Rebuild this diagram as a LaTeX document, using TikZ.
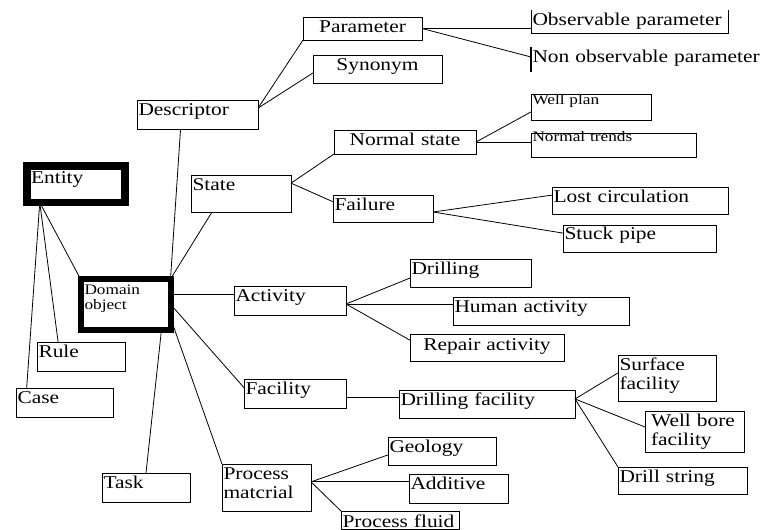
\documentclass[tikz,border=0pt]{standalone}
\usepackage{fontspec}
\setmainfont{Liberation Serif}[FakeStretch=1.19]
\usetikzlibrary{calc}

\newcommand{\bigtxt}{\fontsize{18}{19}\selectfont}
\newcommand{\smalltxt}{\fontsize{14.5}{15}\selectfont}

\begin{document}
\begin{tikzpicture}[x=1pt, y=-1pt]
	\tikzset{
		box/.style 2 args={draw, line width=0.9pt, outer sep=0pt, anchor=north west, minimum width=#1, minimum height=#2, text width=#1-3, text height=15, text depth=#2-16, inner xsep=1.5pt, inner ysep=0.5pt, align=left, font=\bigtxt},
		cbox/.style 2 args={box={#1}{#2}, align=center},
		heavy/.style={line width=#1, inner xsep=4pt},
		wire/.style={line width=0.8pt},
	}

	\useasboundingbox (0,0) rectangle (761,530);

	\node[box={98}{35}, heavy=7.5pt, text width=90, text height=16.5] (entity) at (27,166) {Entity};
	\node[box={90}{50.5}, heavy=6pt, text width=82, text height=14, font=\smalltxt] (dom) at (80.5,279) {Domain\\object};

	\node[box={121}{29}] (desc) at (137,100) {Descriptor};
	\node[cbox={119}{23}] (par) at (303,17) {Parameter};
	\node[cbox={129}{28}] (syn) at (313,55) {Synonym};
	\node[box={197}{23}, draw=none] (obs) at (531,10) {Observable parameter};
	\node[box={229}{25}, draw=none, text width=240] (nonobs) at (531,47) {Non observable parameter};

	\node[box={100}{37}] (state) at (191,175) {State};
	\node[cbox={142}{24}] (ns) at (334,130) {Normal state};
	\node[box={120}{26}, font=\smalltxt, text height=9.5, text depth=15.5] (wp) at (531,94) {Well plan};
	\node[box={165}{24}, font=\smalltxt, text height=7.5, text depth=15.5] (nt) at (531,133) {Normal trends};
	\node[box={100}{27}] (fail) at (333,195) {Failure};
	\node[box={176}{27}] (lost) at (552,187) {Lost circulation};
	\node[box={153}{27}, text height=13.5] (stuck) at (563,225) {Stuck pipe};

	\node[box={112}{29}] (act) at (234,286) {Activity};
	\node[box={121}{28}] (drill) at (410,259) {Drilling};
	\node[box={176}{28}] (hum) at (453,297) {Human activity};
	\node[cbox={154}{26}, text height=16] (rep) at (410,334) {Repair activity};

	\node[box={102}{29}] (fac) at (244,379) {Facility};
	\node[box={176}{28}] (dfac) at (399,390) {Drilling facility};
	\node[box={98}{46}] (surf) at (618,355) {Surface\\facility};
	\node[box={99}{41}, inner xsep=6pt, text width=87] (wb) at (645,411) {Well bore\\facility};
	\node[box={129}{27}] (ds) at (618,467) {Drill string};

	\node[box={89}{47}, text height=14] (proc) at (222,464) {Process\\matcrial};
	\node[box={108}{28}] (geo) at (388,437) {Geology};
	\node[box={99}{29}, text height=14] (add) at (409,474) {Additive};
	\node[box={118}{18}, text height=15.5, text depth=1.5, inner ysep=0pt] (pf) at (341,511) {Process fluid};

	\node[box={88}{29}, text height=14] (task) at (102,473) {Task};
	\node[box={88}{29}] (rule) at (37,342) {Rule};
	\node[box={97}{29}] (case) at (16,388) {Case};

	% open frames
	\draw[line width=0.9pt] (obs.north west) -- (obs.south west) -- (obs.south east) -- (obs.north east);
	\draw[line width=1.2pt] (nonobs.north west) -- (nonobs.south west);

	% entity
	\coordinate (entfoot) at ($(entity.south west)!0.13!(entity.south east)$);
	\draw[wire] (entfoot) -- (dom.north west);
	\foreach \n/\f in {rule/0.24, case/0.11}
		\draw[wire] (entfoot) -- ($(\n.north west)!\f!(\n.north east)$);

	% domain object
	\draw[wire] ($(desc.south west)!0.36!(desc.south east)$) -- (dom.north east);
	\draw[wire] (dom.north east) -- ($(state.south west)!0.21!(state.south east)$);
	\coordinate (domact) at ($(dom.north east)!0.3!(dom.south east)$);
	\draw[wire] (domact) -- (domact -| act.west);
	\draw[wire] (dom.east) -- ($(fac.north west)!0.3!(fac.south west)$);
	\draw[wire] ($(dom.south west)!0.9!(dom.south east)$) -- (task.north);
	\draw[wire] ($(dom.north east)!0.77!(dom.south east)$) -- (proc.north west);

	% descriptor
	\coordinate (descout) at ($(desc.north east)!0.28!(desc.south east)$);
	\draw[wire] (descout) -- (par.south west);
	\draw[wire] (descout) -- ($(syn.north west)!0.64!(syn.south west)$);
	\draw[wire] (par.east) -- (par.east -| obs.west);
	\draw[wire] (par.east) -- ($(nonobs.north west)!0.4!(nonobs.south west)$);

	% state
	\coordinate (stateout) at ($(state.north east)!0.22!(state.south east)$);
	\draw[wire] (stateout) -- (ns.south west);
	\draw[wire] (stateout) -- ($(fail.north west)!0.25!(fail.south west)$);
	\draw[wire] (ns.east) -- ($(wp.north west)!0.69!(wp.south west)$);
	\draw[wire] (ns.east) -- (ns.east -| nt.west);
	\coordinate (failout) at ($(fail.north east)!0.63!(fail.south east)$);
	\foreach \n in {lost, stuck}
		\draw[wire] (failout) -- ($(\n.north west)!0.3!(\n.south west)$);

	% activity
	\coordinate (actout) at ($(act.north east)!0.62!(act.south east)$);
	\foreach \n/\f in {drill/0.68, rep/0.23}
		\draw[wire] (actout) -- ($(\n.north west)!\f!(\n.south west)$);
	\draw[wire] (actout) -- (actout -| hum.west);

	% facility
	\coordinate (facout) at ($(fac.north east)!0.65!(fac.south east)$);
	\draw[wire] (facout) -- (facout -| dfac.west);
	\coordinate (dfacout) at ($(dfac.north east)!0.32!(dfac.south east)$);
	\foreach \n in {surf, wb}
		\draw[wire] (dfacout) -- ($(\n.north west)!0.39!(\n.south west)$);
	\draw[wire] (dfacout) -- (ds.north west);

	% process material
	\coordinate (procout) at ($(proc.north east)!0.38!(proc.south east)$);
	\draw[wire] (procout) -- ($(geo.north west)!0.64!(geo.south west)$);
	\draw[wire] (procout) -- (procout -| add.west);
	\draw[wire] (procout) -- (pf.north west);
\end{tikzpicture}
\end{document}
